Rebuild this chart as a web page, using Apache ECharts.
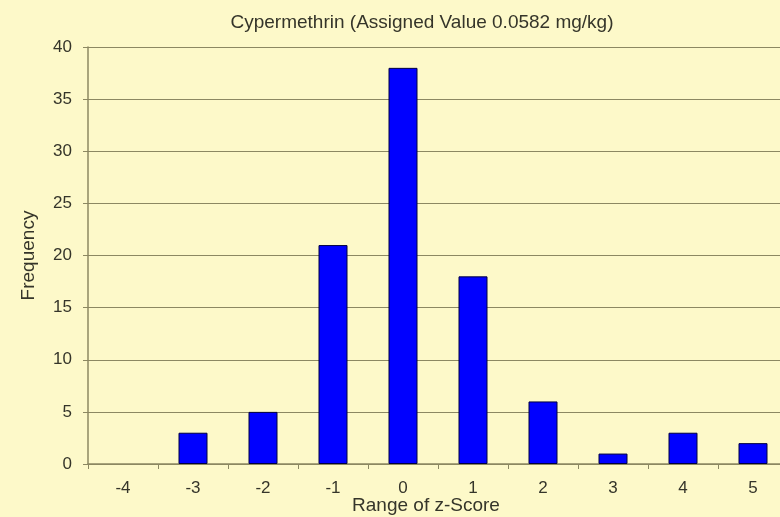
<!DOCTYPE html>
<html>
<head>
<meta charset="utf-8">
<script src="https://cdn.jsdelivr.net/npm/echarts@6/dist/echarts.min.js"></script>
<style>
    html, body { margin: 0; padding: 0; background: #fdf9c9; }
    #chart { width: 780px; height: 517px; }
</style>
</head>
<body>
<div id="chart"></div>
<script>
    // z-score bins and how many labs fell in each
    let zScores = ['-4', '-3', '-2', '-1', '0', '1', '2', '3', '4', '5'];
    let frequency = [0, 3, 5, 21, 38, 18, 6, 1, 3, 2];

    let myChart = echarts.init(document.getElementById('chart'));
    let lineColor = '#8c8862';
    let textColor = '#35352a';

    // empty bins get no outline
    let barData = frequency.map((v)=> {
        return v === 0 ? {value: v, itemStyle: {borderWidth: 0}} : v;
    });

    let option = {
        backgroundColor: '#fdf9c9',
        textStyle: {
            fontFamily: 'Liberation Sans, Arial, sans-serif'
        },
        title: {
            text: 'Cypermethrin (Assigned Value 0.0582 mg/kg)',
            left: 417,
            top: 8,
            textAlign: 'center',
            textStyle: {
                fontSize: 19,
                fontWeight: 'normal',
                color: textColor
            }
        },
        grid: {
            left: 88,
            top: 47,
            bottom: 53,
            width: 700,
            outerBoundsMode: 'none',
            containLabel: false
        },
        xAxis: {
            type: 'category',
            data: zScores,
            name: 'Range of z-Score',
            nameLocation: 'middle',
            nameGap: 32,
            nameMoveOverlap: false,
            nameTextStyle: {
                fontSize: 19,
                color: textColor,
                padding: [0, 24, 0, 0]
            },
            axisLine: {lineStyle: {color: lineColor, width: 1.5}},
            axisTick: {show: true, length: 5, lineStyle: {color: lineColor}},
            axisLabel: {
                margin: 16,
                fontSize: 17,
                color: textColor
            }
        },
        yAxis: {
            type: 'value',
            min: 0,
            max: 40,
            interval: 5,
            name: 'Frequency',
            nameLocation: 'middle',
            nameGap: 50,
            nameMoveOverlap: false,
            nameTextStyle: {
                fontSize: 19,
                color: textColor
            },
            axisLine: {show: true, lineStyle: {color: lineColor, width: 1.5}},
            axisTick: {show: true, length: 5, lineStyle: {color: lineColor}},
            splitLine: {show: true, lineStyle: {color: lineColor, width: 1.2}},
            axisLabel: {
                margin: 16,
                fontSize: 17,
                color: textColor
            }
        },
        series: [{
            type: 'bar',
            data: barData,
            barWidth: 29,
            itemStyle: {
                color: '#0000ff',
                borderColor: '#000040',
                borderWidth: 1
            }
        }]
    };
    myChart.setOption(option);
</script>
</body>
</html>
